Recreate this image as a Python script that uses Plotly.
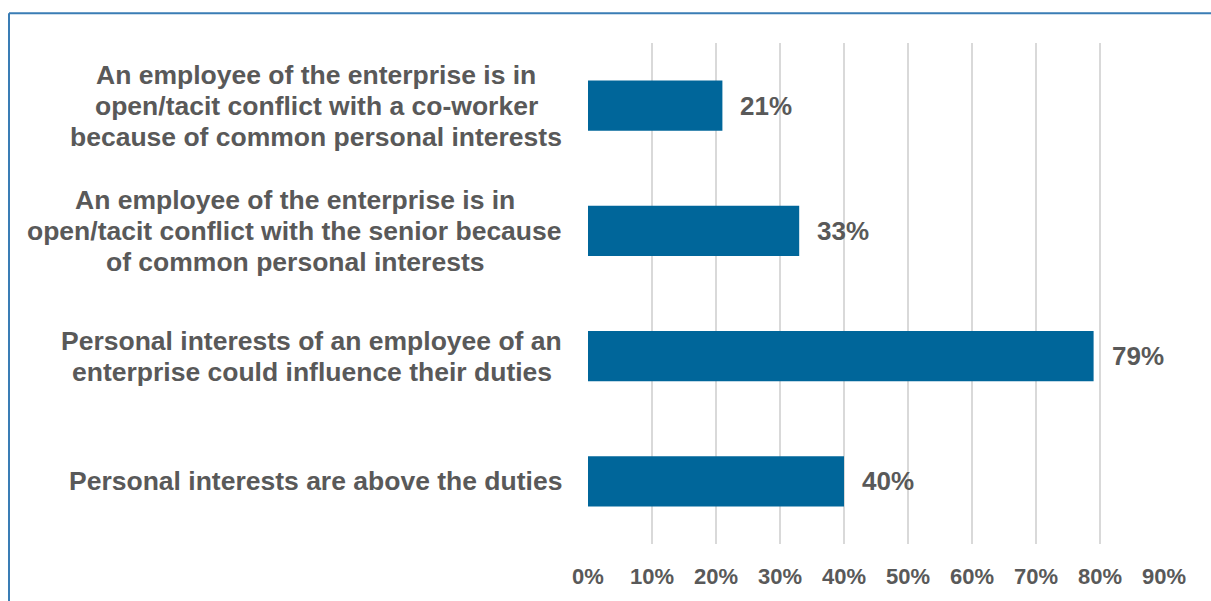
import plotly.graph_objects as go

categories = [
    "An employee of the enterprise is in<br>open/tacit conflict with a co-worker<br>because of common personal interests",
    "An employee of the enterprise is in<br>open/tacit conflict with the senior because<br>of common personal interests",
    "Personal interests of an employee of an<br>enterprise could influence their duties",
    "Personal interests are above the duties",
]
shares = [0.21, 0.33, 0.79, 0.40]
tick_values = [0, 0.1, 0.2, 0.3, 0.4, 0.5, 0.6, 0.7, 0.8, 0.9]
tick_labels = ["0%", "10%", "20%", "30%", "40%", "50%", "60%", "70%", "80%", "90%"]

FONT = "Liberation Sans, Arial, sans-serif"
TEXT = "#595959"
BAR = "#00669A"
FRAME = "#3A7DB5"
LABEL_SIZE = 26.5
VALUE_SIZE = 26
LINE_STEP = 31        # px between lines of a category label
LABEL_RIGHT = 562     # px, right edge of the category label blocks

W, H = 1211, 601
L, R, T, B = 588, 47, 43, 53
pw, ph = W - L - R, H - T - B

# bold sans advance widths (1/1000 em) used to size the label blocks
ADV = {" ": 278, "a": 556, "b": 611, "c": 556, "d": 611, "e": 556, "f": 333,
       "g": 611, "h": 611, "i": 278, "k": 556, "l": 278, "m": 889, "n": 611,
       "o": 611, "p": 611, "r": 389, "s": 556, "t": 333, "u": 611, "v": 556,
       "w": 778, "y": 556, "A": 722, "P": 667, "/": 278, "-": 333}


def text_width(s, size):
    return sum(ADV.get(ch, 600) for ch in s) * size / 1000


fig = go.Figure(
    go.Bar(
        y=categories,
        x=shares,
        orientation="h",
        width=0.4,
        marker=dict(color=BAR, line=dict(width=0)),
        hoverinfo="skip",
    )
)

# value labels to the right of each bar
for cat, v in zip(categories, shares):
    fig.add_annotation(
        x=v, y=cat, xref="x", yref="y",
        text=f"<b>{round(v * 100)}%</b>",
        showarrow=False, xanchor="left", xshift=16,
        font=dict(family=FONT, size=VALUE_SIZE, color=TEXT),
    )

# category labels: right-aligned block, lines centred inside the block
for cat in categories:
    lines = cat.split("<br>")
    n = len(lines)
    block_w = max(text_width(s, LABEL_SIZE) for s in lines)
    center_px = LABEL_RIGHT - block_w / 2
    for i, line in enumerate(lines):
        fig.add_annotation(
            x=(center_px - L) / pw, y=cat, xref="paper", yref="y",
            text=f"<b>{line}</b>",
            showarrow=False, xanchor="center", align="center",
            yshift=((n - 1) / 2 - i) * LINE_STEP,
            font=dict(family=FONT, size=LABEL_SIZE, color=TEXT),
        )

# chart frame: top and left edges
px = lambda p: (p - L) / pw
py = lambda p: (H - B - p) / ph
fig.add_shape(type="line", xref="paper", yref="paper",
              x0=px(9), x1=px(W + 5), y0=py(13), y1=py(13),
              line=dict(color=FRAME, width=2))
fig.add_shape(type="line", xref="paper", yref="paper",
              x0=px(9), x1=px(9), y0=py(13), y1=py(H + 5),
              line=dict(color=FRAME, width=2))

fig.update_layout(
    width=W, height=H,
    margin=dict(l=L, r=R, t=T, b=B, pad=0),
    paper_bgcolor="white", plot_bgcolor="white",
    showlegend=False,
    font=dict(family=FONT, color=TEXT),
)
fig.update_xaxes(
    range=[0, 0.9],
    tickvals=tick_values,
    ticktext=[f"<b>{t}</b>" for t in tick_labels],
    tickfont=dict(family=FONT, size=22, color=TEXT),
    showgrid=True, gridcolor="#D9D9D9", gridwidth=1.5,
    zeroline=False, showline=False, ticks="",
    ticklabelstandoff=17,
    fixedrange=True,
)
fig.update_yaxes(
    autorange="reversed",
    showticklabels=False,
    showgrid=False, zeroline=False, showline=False, ticks="",
    fixedrange=True,
)

fig.write_html("out.html")
